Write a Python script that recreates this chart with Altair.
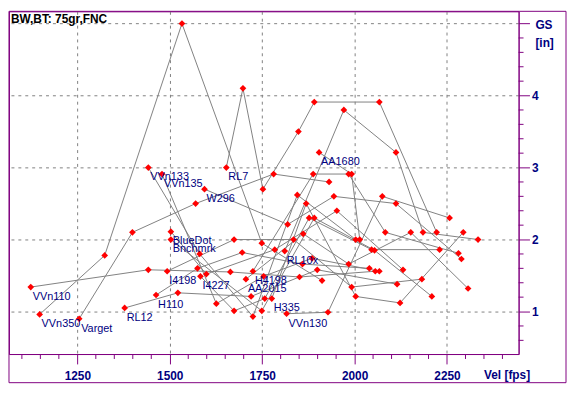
import altair as alt
import pandas as pd

powders = ["VVn110", "VVn350", "Varget", "RL12", "VVn133", "H110", "VVn135", "I4198",
           "BlueDot", "Bnchmrk", "I4227", "W296", "RL7", "AA2015", "H4198", "H335",
           "RL10x", "VVn130", "AA1680"]

velocity = [
    [1124, 1442, 1664, 1851, 2056],
    [1148, 1324, 1533, 1749, 1912],
    [1255, 1399, 1570, 1781, 1931],
    [1378, 1522, 1720, 1899, 2115],
    [1442, 1581, 1725, 1845, 2003],
    [1463, 1575, 1696, 1859, 2040],
    [1479, 1626, 1754, 1885, 2067],
    [1493, 1674, 1835, 1992, 2182],
    [1503, 1599, 1784, 1952, 2131],
    [1503, 1749, 1891, 2054, 2209],
    [1583, 1674, 1757, 1877, 2046, 2230],
    [1594, 1819, 1944, 2112, 2289],
    [1653, 1698, 1752, 1848, 1891, 2067, 2222],
    [1706, 1861, 1984, 2152, 2307],
    [1725, 1888, 1984, 2083, 2281],
    [1776, 1869, 2003, 2123, 2294],
    [1811, 1971, 2112, 2185, 2334],
    [1816, 1928, 2075, 2257],
    [1904, 1992, 2014],
]

group_size = [
    [1.34, 1.58, 1.55, 1.48, 1.56],
    [0.96, 1.78, 5.00, 1.95, 1.43],
    [0.90, 2.10, 2.50, 2.91, 2.80],
    [1.05, 1.26, 1.21, 1.58, 1.38],
    [3.00, 1.80, 0.93, 2.62, 2.00],
    [1.23, 1.60, 1.82, 1.66, 1.60],
    [2.91, 1.11, 1.49, 1.74, 1.56],
    [1.56, 2.00, 2.00, 1.34, 1.45],
    [2.11, 1.52, 1.86, 2.40, 1.58],
    [2.00, 1.01, 2.30, 1.85, 1.21],
    [1.49, 1.01, 1.18, 2.30, 1.86, 1.86],
    [2.70, 2.21, 2.60, 2.50, 1.73],
    [3.00, 4.10, 2.70, 3.50, 3.91, 3.91, 2.10],
    [1.45, 2.08, 1.66, 2.10, 1.32],
    [1.56, 2.91, 2.91, 2.10, 1.81],
    [1.18, 2.50, 1.21, 1.12, 2.10],
    [1.84, 3.80, 3.21, 2.10, 2.00],
    [0.97, 0.99, 2.60, 2.30],
    [3.21, 2.91, 2.00],
]

x_major = [1250, 1500, 1750, 2000, 2250]
x_minor = [1100, 1150, 1200, 1300, 1350, 1400, 1450, 1550, 1600, 1650, 1700,
           1800, 1850, 1900, 1950, 2050, 2100, 2150, 2200, 2300, 2350, 2400]
y_major = [1, 2, 3, 4, 5]
y_minor = [0.6, 0.8, 1.2, 1.4, 1.6, 1.8, 2.2, 2.4, 2.6, 2.8, 3.2, 3.4, 3.6, 3.8,
           4.2, 4.4, 4.6, 4.8]
title_text = "BW,BT: 75gr,FNC"
x_title = "Vel [fps]"
y_title = ["GS", "[in]"]

rows = []
for name, vs, gs in zip(powders, velocity, group_size):
    for i, (v, g) in enumerate(zip(vs, gs)):
        rows.append({"powder": name, "vel": v, "gs": g, "first": i == 0})
df = pd.DataFrame(rows)

PURPLE = "#800080"
NAVY = "#000080"
FONT = "Liberation Sans"
W, H = 516, 347

xs = alt.Scale(domain=[1065.1, 2443.7], nice=False, zero=False)
ys = alt.Scale(domain=[0.41, 5.17], nice=False, zero=False)

x_axis = alt.Axis(
    values=x_major, title=None, format="d", tickSize=10,
    grid=True, gridDash=[3, 4], gridColor="#808080", gridWidth=1,
    domainColor=PURPLE, tickColor=PURPLE, labelColor=NAVY,
    labelFont=FONT, labelFontSize=12, labelFontWeight="bold",
    labelPadding=7, labelOverlap=False, labelFlush=False,
)
y_axis = alt.Axis(
    values=y_major, title=None, orient="right", tickSize=11,
    labelExpr="datum.value == 5 ? '' : datum.label",
    grid=True, gridDash=[3, 4], gridColor="#808080", gridWidth=1,
    domainColor=PURPLE, tickColor=PURPLE, labelColor=NAVY,
    labelFont=FONT, labelFontSize=12, labelFontWeight="bold",
    labelPadding=2, labelOverlap=False, labelFlush=False, labelBaseline="middle",
)

X = alt.X("vel:Q", scale=xs, axis=x_axis)
Y = alt.Y("gs:Q", scale=ys, axis=y_axis)

base = alt.Chart(df)

lines = base.mark_line(color="#808080", strokeWidth=1).encode(
    x=X, y=Y, detail="powder:N")
points = base.mark_point(shape="diamond", filled=True, color="#FF0000", size=46, opacity=1).encode(
    x=X, y=Y)
labels = base.transform_filter(alt.datum.first).mark_text(
    align="left", baseline="top", dx=2, dy=4, font=FONT, fontSize=11, color=NAVY
).encode(x=X, y=Y, text="powder:N")

xminor = alt.Chart(pd.DataFrame({"vel": x_minor})).mark_rule(color=PURPLE).encode(
    x=X, y=alt.value(H), y2=alt.value(H + 5))
yminor = alt.Chart(pd.DataFrame({"gs": y_minor})).mark_rule(color=PURPLE).encode(
    y=Y, x=alt.value(W), x2=alt.value(W + 5))

one = alt.Chart(pd.DataFrame({"t": [title_text]}))
title = one.mark_text(align="left", baseline="middle", font=FONT, fontSize=12,
                      fontWeight="bold", color="black").encode(
    x=alt.value(2), y=alt.value(8), text="t:N")

gs_lbl = alt.Chart(pd.DataFrame({"t": y_title, "yy": [14, 32]})).mark_text(
    align="left", baseline="middle", font=FONT, fontSize=12, fontWeight="bold", color=NAVY
).encode(x=alt.value(533), y=alt.Y("yy:Q", scale=None), text="t:N")

vel_lbl = alt.Chart(pd.DataFrame({"t": [x_title]})).mark_text(
    align="left", baseline="middle", font=FONT, fontSize=12, fontWeight="bold", color=NAVY
).encode(x=alt.value(481), y=alt.value(368), text="t:N")

border = one.mark_rect(fill=None, stroke=PURPLE, strokeWidth=1).encode(
    x=alt.value(0), x2=alt.value(564), y=alt.value(0), y2=alt.value(376))

chart = alt.layer(xminor, yminor, lines, points, labels, title, gs_lbl, vel_lbl, border).properties(
    width=W, height=H, padding=0, background="white"
).configure_view(stroke=PURPLE, strokeWidth=1, fill="white")

chart.save("out.html", embed_options={"renderer": "svg", "actions": False})
